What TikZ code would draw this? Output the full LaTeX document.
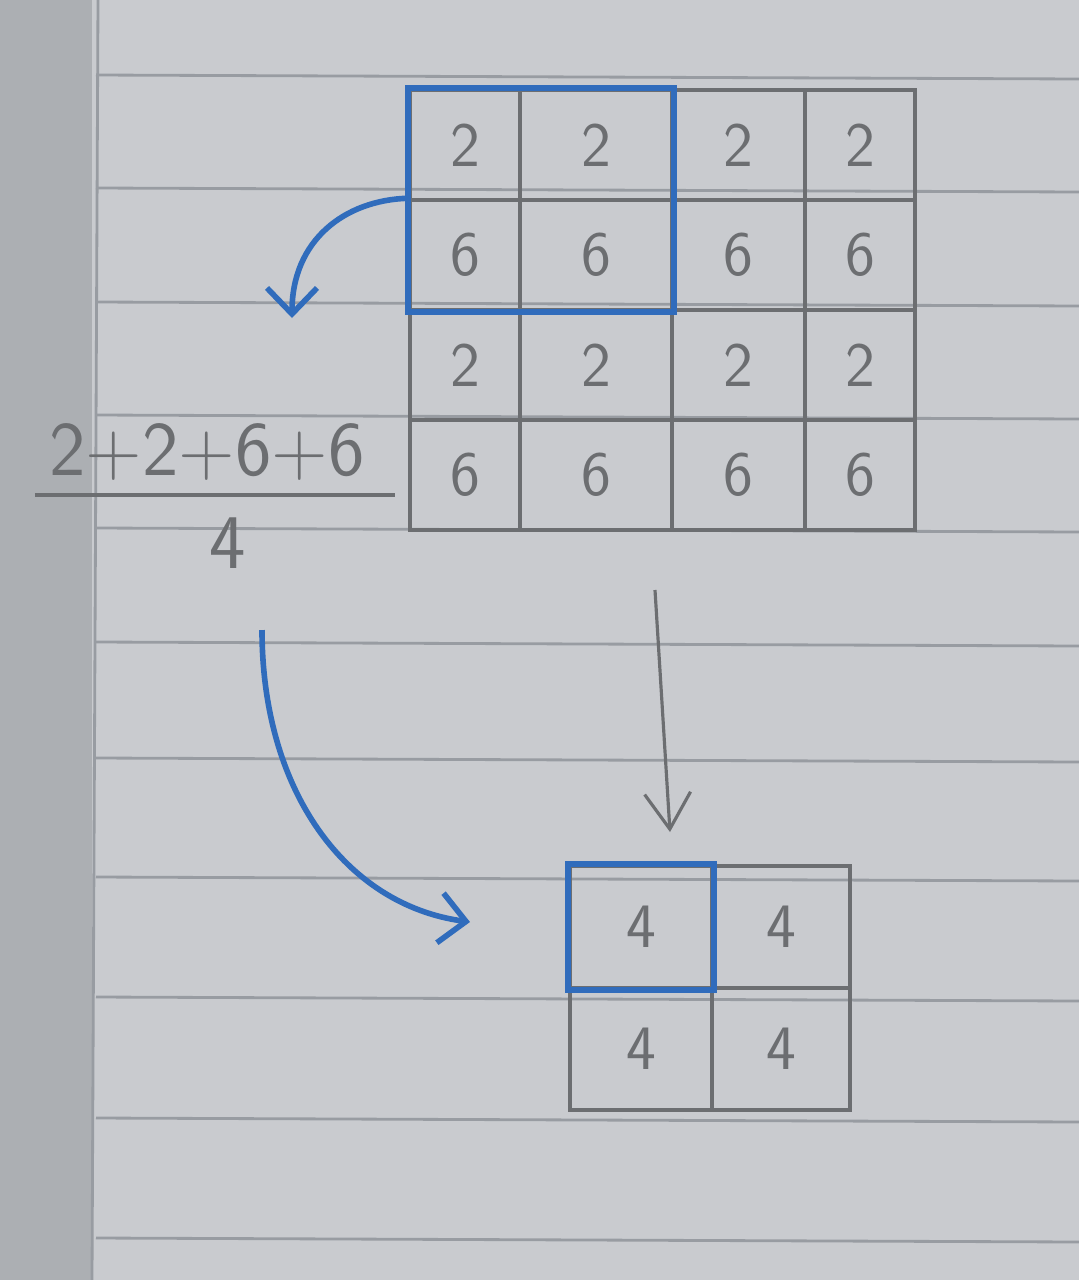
\documentclass[tikz,border=0pt]{standalone}
\usepackage{tikz}
\usetikzlibrary{arrows.meta}

\definecolor{paper}{RGB}{201,203,207}
\definecolor{leftedge}{RGB}{172,175,179}
\definecolor{ruling}{RGB}{152,156,162}
\definecolor{pencil}{RGB}{108,110,113}
\definecolor{ink}{RGB}{48,108,188}

\begin{document}
\begin{tikzpicture}[x=0.1mm, y=-0.1mm,
    cell/.style={draw=pencil, line width=1pt, inner sep=0pt, minimum width=#1, minimum height=11mm,
        text=pencil, font=\sffamily\fontsize{18}{18}\selectfont},
    cell/.default=11mm,
    txt/.style={inner sep=0pt, text=pencil, font=\sffamily\fontsize{22}{22}\selectfont},
    pen/.style={draw=ink, line width=1.8pt},
    penarrow/.style={draw=ink, line width=1.6pt, -{Straight Barb[length=2.6mm, width=5mm]}},
    pencilarrow/.style={draw=pencil, line width=0.9pt, -{Straight Barb[length=3.6mm, width=4.6mm]}}]
    \useasboundingbox (0,0) rectangle (1079,1280);

    % Paper
    \fill[paper] (0,0) rectangle (1079,1280);
    \fill[leftedge] (0,0) rectangle (92,1280);
    \draw[ruling, line width=0.8pt] (98,0) -- (92,1280);
    \foreach \y in {75,188,302,415,528,642,758,877,997,1118,1238}
        \draw[ruling, line width=0.8pt] (96,\y) -- (1079,\y+4);

    % Input grid
    \foreach \c/\cx/\w in {1/465/11mm, 2/596/15.2mm, 3/738.5/13.3mm, 4/860/11mm}
        \foreach \r/\cy/\v in {1/145/2, 2/255/6, 3/365/2, 4/475/6}
            \node[cell=\w] (a\r\c) at (\cx,\cy) {\v};
    \draw[pen] (a11.north west) rectangle (a22.south east);

    % Average
    \node[txt] (num) at (207,452) {2+2+6+6};
    \node[txt] (den) at (228,543) {4};
    \draw[pencil, line width=1pt] ([xshift=-1.4mm, yshift=-1.4mm]num.south west)
        -- ([xshift=3mm, yshift=-1.4mm]num.south east);

    % Output grid
    \node[cell=14.2mm, minimum height=12.2mm] (b11) at (641,927) {4};
    \node[cell=13.8mm, minimum height=12.2mm] (b12) at (781,927) {4};
    \node[cell=14.2mm, minimum height=12.2mm] (b21) at (641,1049) {4};
    \node[cell=13.8mm, minimum height=12.2mm] (b22) at (781,1049) {4};
    \draw[pen] (b11.north west) rectangle (b11.south east);

    % Arrows
    \coordinate (tip1) at (292,318);
    \coordinate (tail2) at (262,630);
    \coordinate (tip2) at (470,922);
    \coordinate (tail3) at (655,590);
    \coordinate (tip3) at (670,832);
    \draw[penarrow] (a21.north west) .. controls (345,200) and (292,240) .. (tip1);
    \draw[penarrow] (tail2) .. controls (262,790) and (345,905) .. (tip2);
    \draw[pencilarrow] (tail3) -- (tip3);
\end{tikzpicture}
\end{document}
